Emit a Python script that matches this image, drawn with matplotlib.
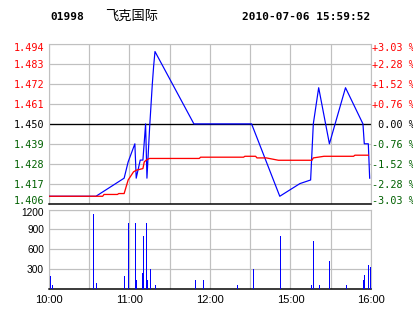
import matplotlib
matplotlib.use('Agg')
import matplotlib.pyplot as plt
from matplotlib.transforms import ScaledTranslation

# header
code = "01998"
name = "飞克国际"
stamp = "2010-07-06 15:59:52"

prev_close = 1.450
price_ticks = [1.406, 1.417, 1.428, 1.439, 1.450, 1.461, 1.472, 1.483, 1.494]
pct_labels = ["-3.03 %", "-2.28 %", "-1.52 %", "-0.76 %", " 0.00 %",
              "+0.76 %", "+1.52 %", "+2.28 %", "+3.03 %"]
vol_ticks = [300, 600, 900, 1200]
time_labels = ["10:00", "", "11:00", "", "12:00", "", "15:00", "", "16:00"]

# price line (blue)
price_times = ["10:00", "10:35", "10:56", "10:59", "11:04", "11:05", "11:08", "11:10",
               "11:12", "11:13", "11:15", "11:17", "11:18", "11:19", "11:48", "14:31",
               "14:52", "15:07", "15:15", "15:17", "15:21", "15:29", "15:41", "15:54",
               "15:55", "15:58", "15:59"]
prices = [1.410, 1.410, 1.420, 1.429, 1.439, 1.420, 1.430, 1.430,
          1.450, 1.420, 1.448, 1.472, 1.482, 1.490, 1.450, 1.450,
          1.410, 1.417, 1.419, 1.450, 1.470, 1.439, 1.470, 1.450,
          1.439, 1.439, 1.420]

# average price line (red)
avg_times = ["10:00", "10:40", "10:41", "10:51", "10:52", "10:56", "10:59", "11:03",
             "11:05", "11:10", "11:11", "11:13", "11:15", "11:52", "11:53", "12:25",
             "12:26", "14:34", "14:35", "14:42", "14:51", "15:16", "15:17", "15:25",
             "15:47", "15:48", "15:58"]
avg_prices = [1.410, 1.410, 1.411, 1.411, 1.4115, 1.4115, 1.419, 1.4235,
              1.4244, 1.4253, 1.429, 1.4303, 1.4309, 1.4309, 1.4316, 1.4316,
              1.4321, 1.4321, 1.4312, 1.4312, 1.4299, 1.4299, 1.4312, 1.4321,
              1.4321, 1.4327, 1.4327]

# volume
vol_times = ["10:01", "10:02", "10:33", "10:35", "10:56", "10:59", "11:04", "11:05",
             "11:09", "11:10", "11:12", "11:13", "11:15", "11:19", "11:49", "11:55",
             "12:20", "14:32", "14:52", "15:15", "15:17", "15:21", "15:29", "15:41",
             "15:54", "15:55", "15:58", "15:59"]
volumes = [190, 50, 1130, 80, 190, 1000, 1000, 130,
           230, 800, 1000, 130, 300, 50, 130, 130,
           50, 300, 800, 60, 720, 50, 420, 50,
           130, 200, 360, 320]


def tmin(s):
    # trading minutes since 10:00, lunch break 12:30-14:30 removed
    h, m = map(int, s.split(':'))
    t = h * 60 + m
    return t - 600 if t <= 750 else t - 870 + 150


GRID = '#c0c0c0'
RED = '#ff0000'
GREEN = '#006000'
MONO = 'DejaVu Sans Mono'
SANS = 'Liberation Sans'
px = 0.72

fig = plt.figure(figsize=(4.14, 3.14), dpi=100)
W, H = 414, 314
ax = fig.add_axes([49 / W, 1 - 203.5 / H, 322 / W, 159.2 / H])
axv = fig.add_axes([49 / W, 1 - 288.5 / H, 322 / W, 79 / H])

fig.text(50 / W, 1 - 17 / H, code, family=MONO, weight='bold', fontsize=8, va='center')
fig.text(105 / W, 1 - 16 / H, name, family=['Noto Sans CJK SC', 'DejaVu Sans'],
         fontsize=9.5, va='center')
fig.text(370 / W, 1 - 17 / H, stamp, family=MONO, weight='bold', fontsize=8,
         va='center', ha='right')

xt = [0, 30, 60, 90, 120, 150, 180, 210, 240]

# ---- price panel
ax.set_xlim(0, 240)
ax.set_ylim(price_ticks[0], price_ticks[-1])
ax.set_xticks(xt)
ax.set_yticks(price_ticks)
ax.grid(True, color=GRID, lw=px * 1.2)
ax.axhline(prev_close, color='black', lw=px * 1.3, zorder=2)
ax.plot([tmin(t) for t in price_times], prices, color='blue', lw=px * 1.2, zorder=3)
ax.plot([tmin(t) for t in avg_times], avg_prices, color=RED, lw=px * 1.3, zorder=4)
for s in ['left', 'top', 'right']:
    ax.spines[s].set_color(GRID)
ax.spines['bottom'].set_color('black')
ax.spines['bottom'].set_linewidth(px * 1.5)
ax.tick_params(length=0, labelbottom=False)
ax.tick_params(axis='y', pad=3.6, labelsize=7.3)
ax.set_yticklabels(["%.3f" % v for v in price_ticks], family=MONO)
for v, lab in zip(price_ticks, ax.get_yticklabels()):
    lab.set_color(RED if v > prev_close else ('black' if v == prev_close else GREEN))

axr = ax.twinx()
axr.set_ylim(price_ticks[0], price_ticks[-1])
axr.set_yticks(price_ticks)
axr.set_yticklabels(pct_labels, family=MONO)
axr.tick_params(length=0, pad=0.8, labelsize=7.3)
for s in axr.spines.values():
    s.set_visible(False)
for v, lab in zip(price_ticks, axr.get_yticklabels()):
    lab.set_color(RED if v > prev_close else ('black' if v == prev_close else GREEN))

for a in (ax, axr):
    labs = a.get_yticklabels()
    labs[-1].set_transform(labs[-1].get_transform() + ScaledTranslation(0, -3 / 100, fig.dpi_scale_trans))
    labs[0].set_transform(labs[0].get_transform() + ScaledTranslation(0, 3 / 100, fig.dpi_scale_trans))

# ---- volume panel
axv.set_xlim(0, 240)
axv.set_ylim(0, 1200)
axv.set_xticks(xt)
axv.set_xticklabels(time_labels, family=SANS, fontsize=8)
axv.set_yticks(vol_ticks)
axv.set_yticklabels([str(v) for v in vol_ticks], family=SANS, fontsize=7.3)
axv.grid(True, color=GRID, lw=px * 1.2)
axv.vlines([tmin(t) for t in vol_times], 0, volumes, colors='blue', lw=0.72,
           antialiased=False, zorder=3)
for s in ['left', 'top', 'right']:
    axv.spines[s].set_color(GRID)
axv.spines['bottom'].set_color('black')
axv.spines['bottom'].set_linewidth(px * 1.5)
axv.tick_params(length=0)
axv.tick_params(axis='y', pad=3.6)
axv.tick_params(axis='x', pad=4.5)
lab = axv.get_yticklabels()[-1]
lab.set_transform(lab.get_transform() + ScaledTranslation(0, -3 / 100, fig.dpi_scale_trans))

fig.savefig('out.png', dpi=100)
